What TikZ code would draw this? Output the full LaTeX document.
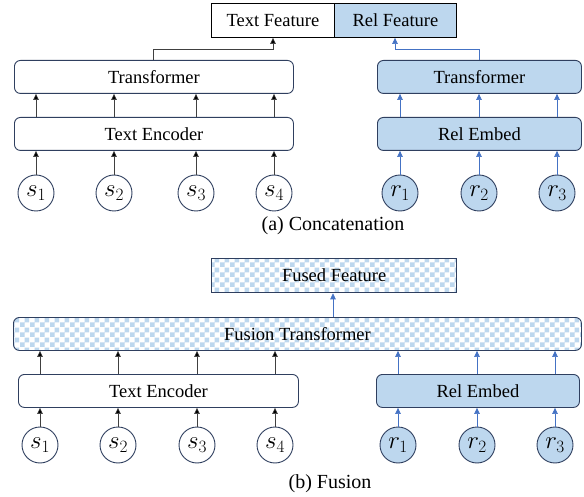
\documentclass[tikz,border=0pt]{standalone}
\usepackage{fontspec}
\setmainfont{Liberation Serif}
\usetikzlibrary{arrows.meta,patterns}
\definecolor{lb}{HTML}{BDD7EE}
\definecolor{navy}{HTML}{2F3F5F}
\definecolor{ab}{HTML}{4472C4}
\pgfdeclarepatternformonly{mycheck}{\pgfpointorigin}{\pgfpoint{10pt}{10pt}}{\pgfpoint{10pt}{10pt}}{%
  \pgfpathrectangle{\pgfpointorigin}{\pgfpoint{5pt}{5pt}}%
  \pgfpathrectangle{\pgfpoint{5pt}{5pt}}{\pgfpoint{5pt}{5pt}}%
  \pgfusepath{fill}}
\begin{document}
\begin{tikzpicture}[x=1pt,y=-1pt,
  txt/.style={font=\fontsize{18.5}{20}\selectfont},
  wbox/.style={draw=navy,line width=0.9pt,rounded corners=6pt,fill=white,txt},
  bbox/.style={draw=navy,line width=0.9pt,rounded corners=6pt,fill=lb,txt},
  cbox/.style={draw=navy,line width=0.9pt,rounded corners=6pt,preaction={fill=white},pattern=mycheck,pattern color=lb,txt},
  feat/.style={draw=black,line width=0.9pt,txt},
  scirc/.style={circle,draw=navy,line width=0.9pt,fill=white,minimum size=36pt,inner sep=0pt,font=\fontsize{24}{24}\selectfont},
  rcirc/.style={circle,draw=navy,line width=0.9pt,fill=lb,minimum size=36pt,inner sep=0pt,font=\fontsize{24}{24}\selectfont},
  karr/.style={draw=black!75,line width=0.6pt,-{Triangle[length=6pt,width=5.5pt,fill=black]}},
  barr/.style={draw=ab,line width=0.6pt,-{Triangle[length=6pt,width=5.5pt,fill=ab]}},
  captxt/.style={font=\fontsize{20}{22}\selectfont}
]
\useasboundingbox (0,0) rectangle (584,497);
% ---------- (a) ----------
\node[feat,minimum width=123pt,minimum height=34pt,anchor=north west] (tf) at (211,3) {Text Feature};
\node[feat,fill=lb,minimum width=122pt,minimum height=34pt,anchor=north west] (rf) at (334,3) {Rel Feature};
\node[wbox,minimum width=279pt,minimum height=33pt,anchor=north west] (tt) at (14,60) {Transformer};
\node[bbox,minimum width=204pt,minimum height=33pt,anchor=north west] (rt) at (377,60) {Transformer};
\node[wbox,minimum width=279pt,minimum height=33pt,anchor=north west] (te) at (14,117) {Text Encoder};
\node[bbox,minimum width=204pt,minimum height=33pt,anchor=north west] (re) at (377,117) {Rel Embed};
\foreach \i/\x in {1/36,2/114,3/196,4/274}{
  \node[scirc] (s\i) at (\x,193) {$s_{\i}$};
  \draw[karr] (s\i.north) -- (s\i.north |- te.south);
  \draw[karr] (s\i.north |- te.north) -- (s\i.north |- tt.south);
}
\foreach \i/\x in {1/400,2/479,3/557}{
  \node[rcirc] (r\i) at (\x,193) {$r_{\i}$};
  \draw[barr] (r\i.north) -- (r\i.north |- re.south);
  \draw[barr] (r\i.north |- re.north) -- (r\i.north |- rt.south);
}
\coordinate (ka) at (153,49);
\coordinate (kb) at (273,37);
\coordinate (ba) at (479,49);
\coordinate (bb) at (395,37);
\draw[karr] (tt.north -| ka) |- (ka -| kb) -- (kb |- tf.south);
\draw[barr] (rt.north -| ba) |- (ba -| bb) -- (bb |- rf.south);
\node[captxt] (ca) at (333,226) {(a) Concatenation};
% ---------- (b) ----------
\node[cbox,rounded corners=0pt,line width=1.3pt,minimum width=245pt,minimum height=34pt,anchor=north west] (ff) at (211,258) {Fused Feature};
\node[cbox,minimum width=568pt,minimum height=33pt,anchor=north west] (ft) at (13,317) {Fusion Transformer};
\node[wbox,minimum width=280pt,minimum height=33pt,anchor=north west] (te2) at (18,374) {Text Encoder};
\node[bbox,minimum width=203pt,minimum height=33pt,anchor=north west] (re2) at (376,374) {Rel Embed};
\foreach \i/\x in {1/40,2/118,3/197,4/275}{
  \node[scirc] (t\i) at (\x,445) {$s_{\i}$};
  \draw[karr] (t\i.north) -- (t\i.north |- te2.south);
  \draw[karr] (t\i.north |- te2.north) -- (t\i.north |- ft.south);
}
\foreach \i/\x in {1/398,2/477,3/555}{
  \node[rcirc] (q\i) at (\x,445) {$r_{\i}$};
  \draw[barr] (q\i.north) -- (q\i.north |- re2.south);
  \draw[barr] (q\i.north |- re2.north) -- (q\i.north |- ft.south);
}
\coordinate (fa) at (333,300);
\draw[barr] (ft.north -| fa) -- (ff.south -| fa);
\node[captxt] (cb) at (330,484) {(b) Fusion};
\end{tikzpicture}
\end{document}
